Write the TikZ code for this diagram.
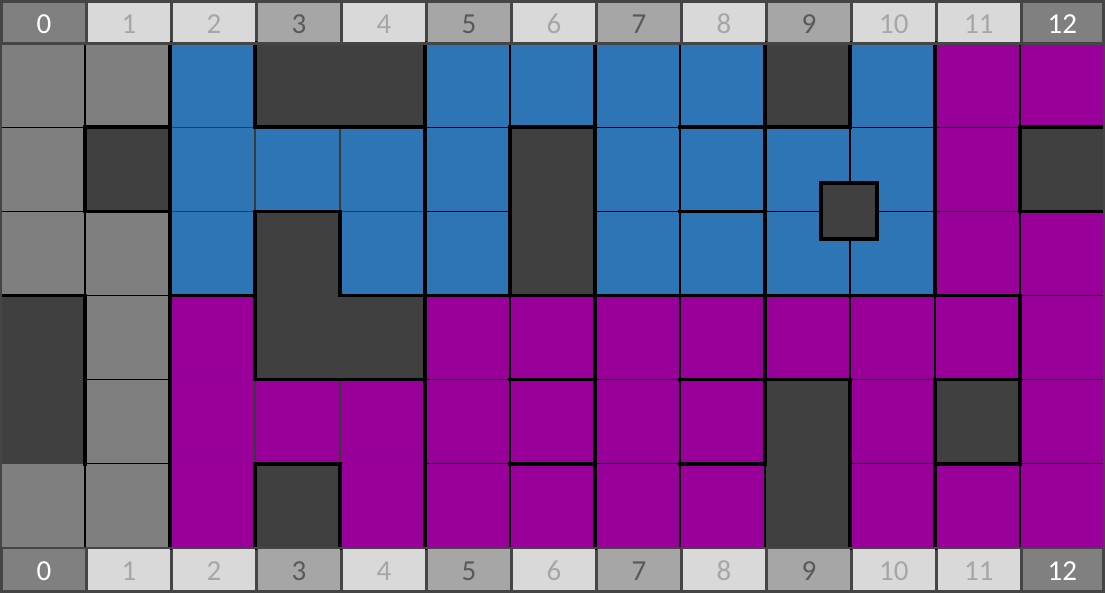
\documentclass[tikz,border=0pt]{standalone}
\usepackage{fontspec}
\setmainfont{Carlito}
\definecolor{cgray}{HTML}{7F7F7F}
\definecolor{cdark}{HTML}{404040}
\definecolor{cblue}{HTML}{2E75B6}
\definecolor{cpurple}{HTML}{990099}
\definecolor{hdbg}{HTML}{454545}
\definecolor{hdL}{HTML}{D9D9D9}
\definecolor{hdM}{HTML}{A6A6A6}
\definecolor{hdD}{HTML}{808080}
\definecolor{txL}{HTML}{A6A6A6}
\definecolor{txM}{HTML}{595959}
\definecolor{gridgray}{HTML}{3A3A3A}
\newcommand\gridedges{%
  % vertical edges, one list per row (V1..V12)
  \foreach \rowlist [count=\r from 0] in {%
    {t,T,T,n,T,t,T,t,T,T,T,t},%
    {T,T,g,g,T,T,T,t,T,t,T,T},%
    {t,T,T,T,T,T,T,t,T,t,T,t},%
    {T,T,T,n,T,t,T,t,T,t,t,T},%
    {T,T,g,g,T,t,T,t,T,T,T,T},%
    {t,T,T,T,T,t,T,t,t,T,T,t}}{%
    \foreach \k [count=\i from 1] in \rowlist {%
      \draw[edge\k] ({85*\i},{43+84.1667*\r}) -- ({85*\i},{43+84.1667*(\r+1)});
    }
  }
  % horizontal edges, one list per boundary (columns 0..12)
  \foreach \rowlist [count=\j from 1] in {%
    {t,T,g,T,T,t,T,t,T,T,t,t,T},%
    {t,T,g,T,g,t,n,t,T,t,t,t,T},%
    {T,t,T,n,T,T,T,T,T,T,T,T,t},%
    {n,t,g,T,T,t,T,t,T,T,t,T,t},%
    {n,t,g,T,g,t,T,t,T,n,t,T,t}}{%
    \foreach \k [count=\c from 0] in \rowlist {%
      \draw[edge\k] ({85*\c},{43+84.1667*\j}) -- ({85*(\c+1)},{43+84.1667*\j});
    }
  }
}
\begin{document}
\begin{tikzpicture}[x=1pt,y=-1pt,
  fillG/.style={fill=cgray},
  fillD/.style={fill=cdark},
  fillB/.style={fill=cblue},
  fillP/.style={fill=cpurple},
  edgeT/.style={draw=black,line width=3.6,line cap=rect},
  edget/.style={draw=black,line width=1.2},
  edgeg/.style={draw=gridgray,line width=1.2},
  edgen/.style={draw=none},
  hdcellL/.style={fill=hdL},
  hdcellM/.style={fill=hdM},
  hdcellD/.style={fill=hdD},
  hdtext/.style={inner sep=0,anchor=base,font=\fontsize{29}{30}\selectfont},
  hdtextL/.style={hdtext,text=txL},
  hdtextM/.style={hdtext,text=txM},
  hdtextD/.style={hdtext,text=white},
  obstacle/.style={draw=black,line width=4.2,fill=cdark,rectangle,inner sep=0,minimum size=56}]
\useasboundingbox (0,0) rectangle (1105,593);
\fill[hdbg] (0,0) rectangle (1105,593);
% cells
\foreach \rowlist [count=\r from 0] in {%
  {G,G,B,D,D,B,B,B,B,D,B,P,P},%
  {G,D,B,B,B,B,D,B,B,B,B,P,D},%
  {G,G,B,D,B,B,D,B,B,B,B,P,P},%
  {D,G,P,D,D,P,P,P,P,P,P,P,P},%
  {D,G,P,P,P,P,P,P,P,D,P,D,P},%
  {G,G,P,D,P,P,P,P,P,D,P,P,P}}{%
  \foreach \k [count=\c from 0] in \rowlist {%
    \fill[fill\k] ({85*\c},{43+84.1667*\r}) rectangle ({85*(\c+1)},{43+84.1667*(\r+1)});
  }
}
% thin lines first, then thick ones
\begin{scope}[edgeT/.style={draw=none}]
  \gridedges
\end{scope}
\begin{scope}[edget/.style={draw=none},edgeg/.style={draw=none}]
  \gridedges
\end{scope}
% small obstacle square
\node[obstacle] (blk) at (849,211) {};
% frame bands
\fill[hdbg] (0,42.5) rectangle (1105,45);
\fill[hdbg] (0,546.7) rectangle (1105,549.4);
\fill[hdbg] (0,43) rectangle (2.3,548);
\fill[hdbg] (1103,43) rectangle (1105,548);
% header cells and numbers
\foreach \k [count=\i from 0] in {D,L,L,M,L,M,L,M,L,M,L,L,D} {%
  \fill[hdcell\k] ({85*\i+2.7},3) rectangle ({min(85*\i+85,1102)},42.5);
  \fill[hdcell\k] ({85*\i+2.7},549.4) rectangle ({min(85*\i+85,1102)},590);
  \node[hdtext\k] (top\i) at ({(85*\i+2.7+min(85*\i+85,1102))/2},34) {\i};
  \node[hdtext\k] (bot\i) at ({(85*\i+2.7+min(85*\i+85,1102))/2},580) {\i};
}
\end{tikzpicture}
\end{document}
